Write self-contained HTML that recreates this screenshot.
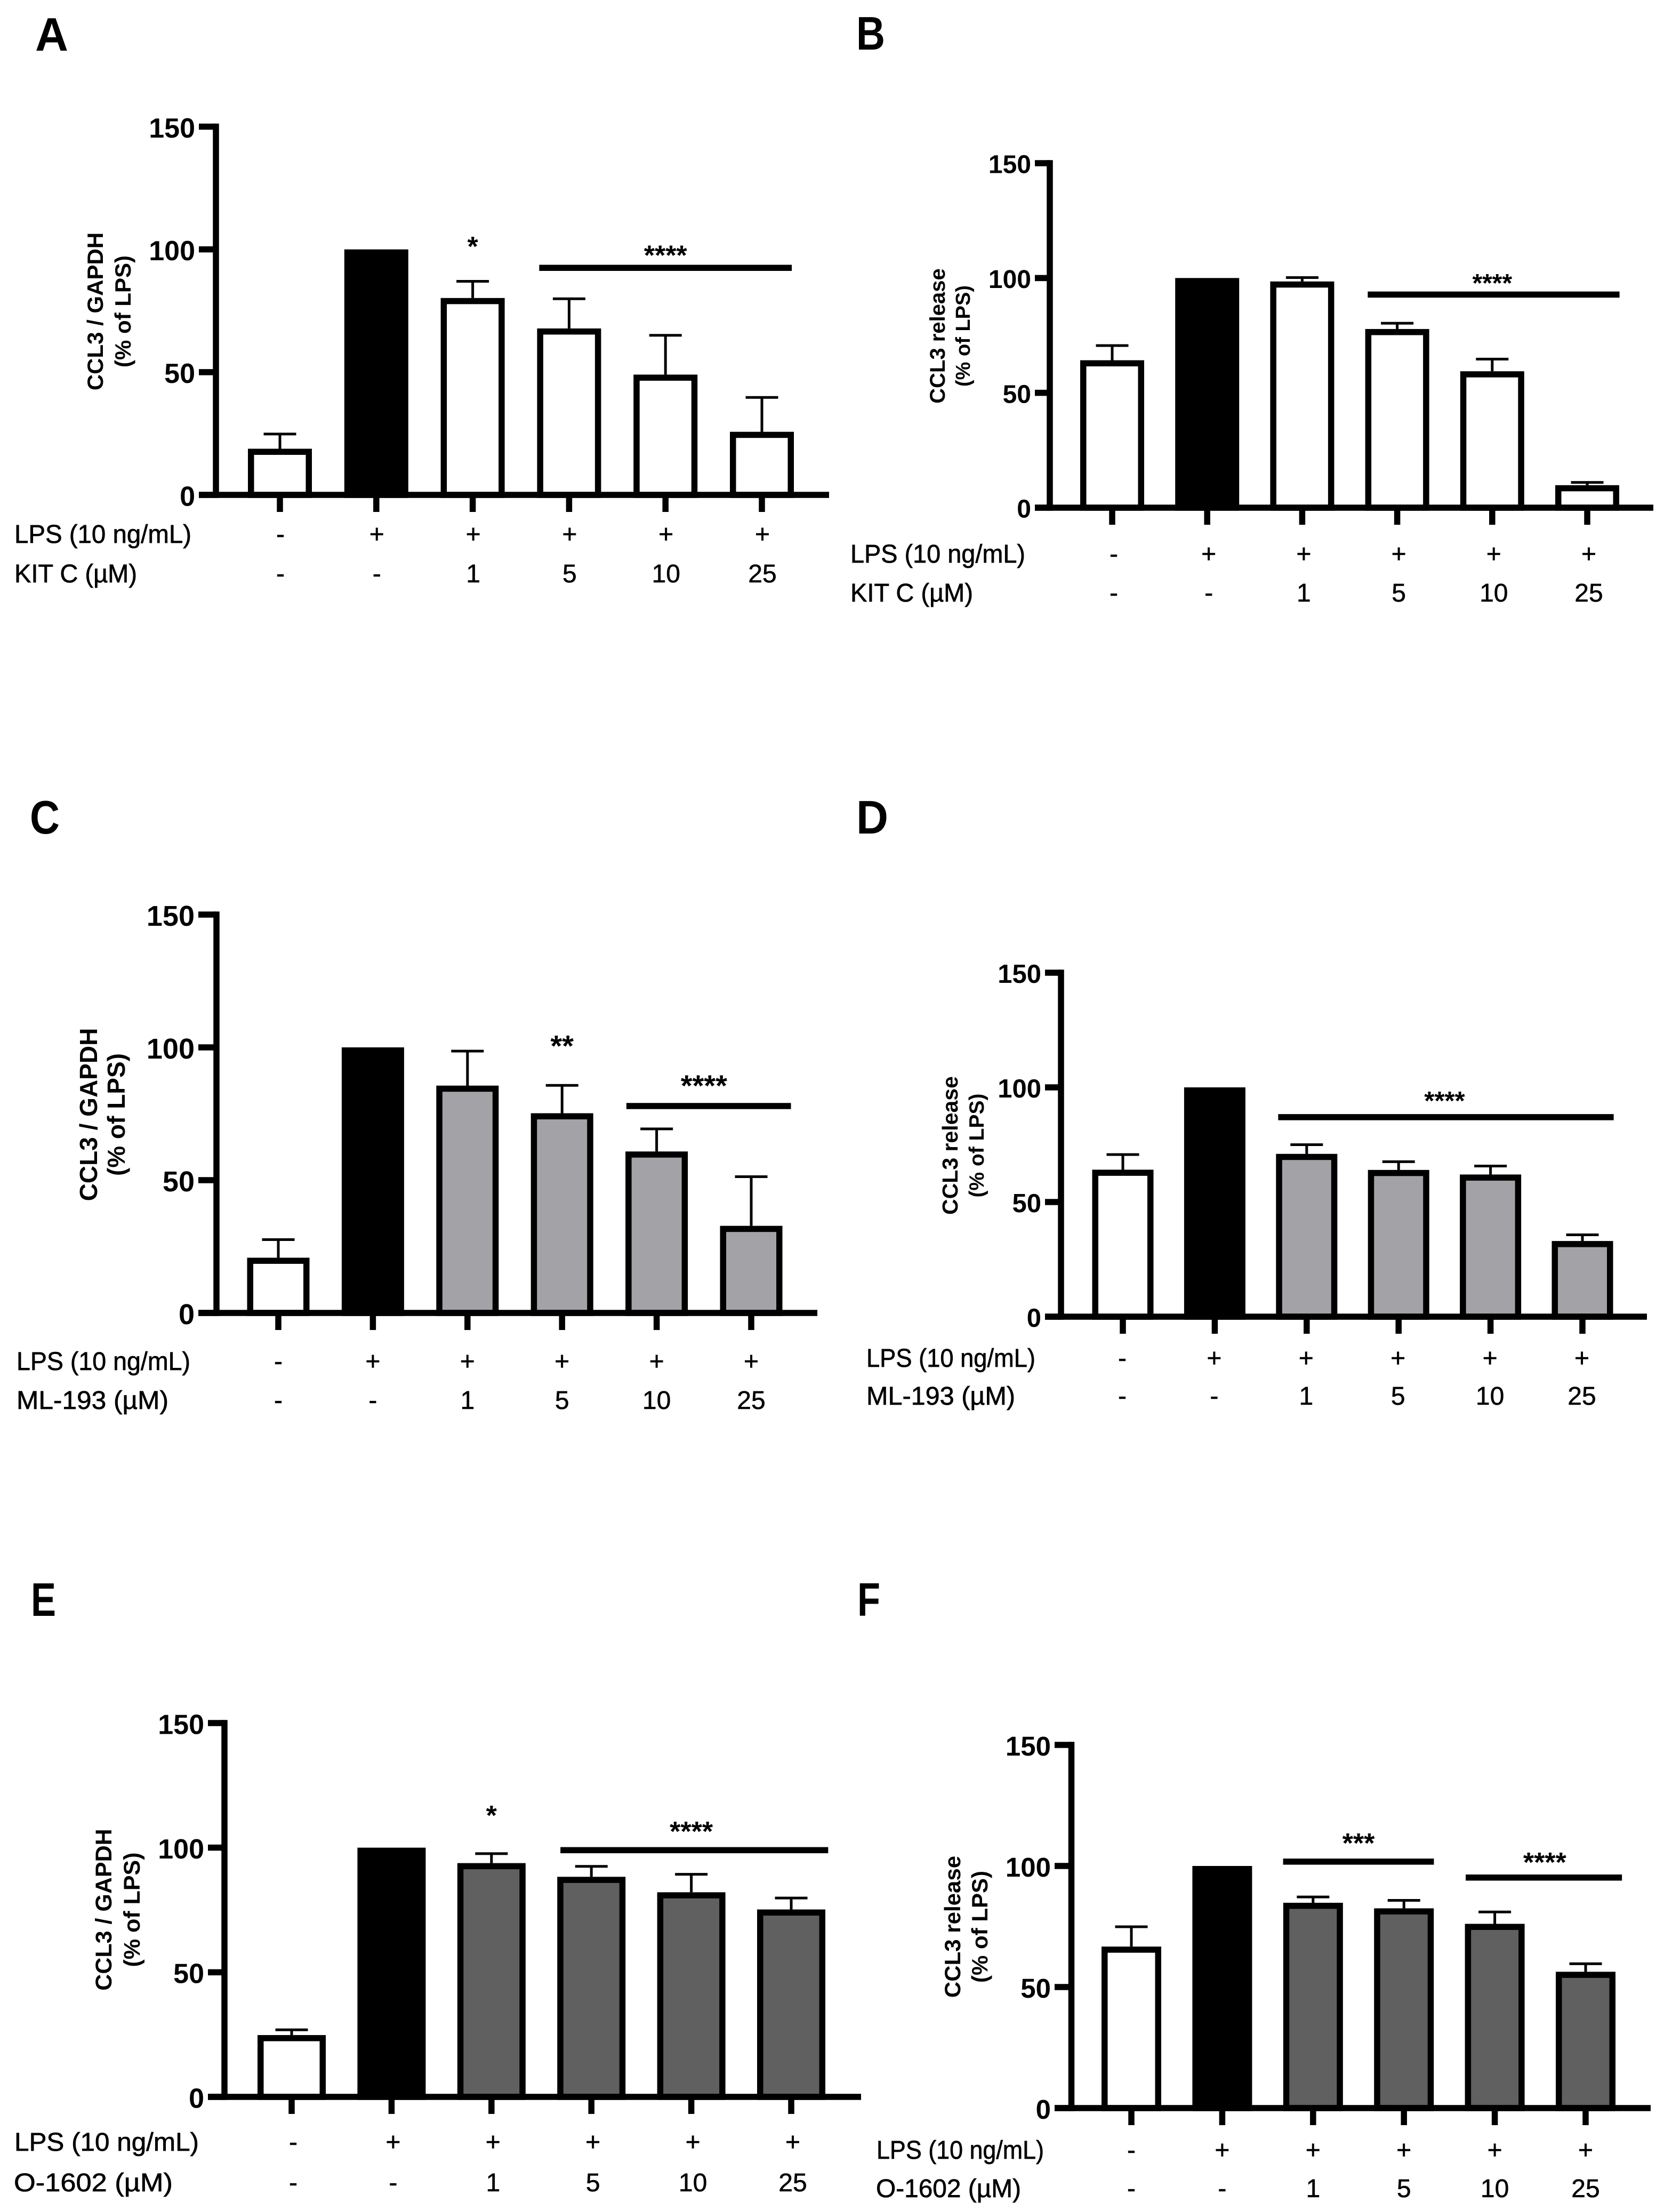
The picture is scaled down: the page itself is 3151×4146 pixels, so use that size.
<!DOCTYPE html>
<html lang="en">
<head>
<meta charset="utf-8">
<title>CCL3 expression and release panels</title>
<style>
html,body{margin:0;padding:0;background:#fff;}
svg{display:block;}
text{fill:#000;}
.letter{font:bold 88px "Liberation Sans",sans-serif;}
.ytitle{font-family:"Liberation Sans",sans-serif;font-weight:bold;text-anchor:middle;}
.rowhead{font:48px "Liberation Sans",sans-serif;stroke:#000;stroke-width:.7px;}
</style>
</head>
<body>
<svg id="figure" xmlns="http://www.w3.org/2000/svg" width="3151" height="4146" viewBox="0 0 3151 4146">
<rect x="0" y="0" width="3151" height="4146" fill="#fff"/>

<text class="letter" x="66" y="95" textLength="62" lengthAdjust="spacingAndGlyphs">A</text>
<text class="letter" x="1606" y="93" textLength="54" lengthAdjust="spacingAndGlyphs">B</text>
<text class="letter" x="56" y="1563" textLength="56" lengthAdjust="spacingAndGlyphs">C</text>
<text class="letter" x="1606" y="1563" textLength="60" lengthAdjust="spacingAndGlyphs">D</text>
<text class="letter" x="58" y="3030" textLength="47" lengthAdjust="spacingAndGlyphs">E</text>
<text class="letter" x="1608" y="3030" textLength="43" lengthAdjust="spacingAndGlyphs">F</text>

<g class="ytitle" font-size="42">
<text transform="translate(193 584) rotate(-90)">CCL3 / GAPDH</text>
<text transform="translate(245 584) rotate(-90)">(% of LPS)</text>
</g>
<g class="ytitle" font-size="40">
<text transform="translate(1772 630) rotate(-90)">CCL3 release</text>
<text transform="translate(1819 630) rotate(-90)" font-size="38">(% of LPS)</text>
</g>
<g class="ytitle" font-size="46">
<text transform="translate(182 2090) rotate(-90)">CCL3 / GAPDH</text>
<text transform="translate(234 2090) rotate(-90)">(% of LPS)</text>
</g>
<g class="ytitle" font-size="41">
<text transform="translate(1796 2148) rotate(-90)">CCL3 release</text>
<text transform="translate(1845 2148) rotate(-90)" font-size="39">(% of LPS)</text>
</g>
<g class="ytitle" font-size="43">
<text transform="translate(209 3581) rotate(-90)">CCL3 / GAPDH</text>
<text transform="translate(262 3581) rotate(-90)">(% of LPS)</text>
</g>
<g class="ytitle" font-size="42">
<text transform="translate(1801 3613) rotate(-90)">CCL3 release</text>
<text transform="translate(1852 3613) rotate(-90)">(% of LPS)</text>
</g>

<text class="rowhead" x="27" y="1018" textLength="332" lengthAdjust="spacingAndGlyphs">LPS (10 ng/mL)</text>
<text class="rowhead" x="27" y="1092" textLength="230" lengthAdjust="spacingAndGlyphs">KIT C (µM)</text>
<text class="rowhead" x="1595" y="1055" textLength="328" lengthAdjust="spacingAndGlyphs">LPS (10 ng/mL)</text>
<text class="rowhead" x="1595" y="1128" textLength="230" lengthAdjust="spacingAndGlyphs">KIT C (µM)</text>
<text class="rowhead" x="31" y="2569" textLength="326" lengthAdjust="spacingAndGlyphs">LPS (10 ng/mL)</text>
<text class="rowhead" x="31" y="2642" textLength="285" lengthAdjust="spacingAndGlyphs">ML-193 (µM)</text>
<text class="rowhead" x="1625" y="2563" textLength="317" lengthAdjust="spacingAndGlyphs">LPS (10 ng/mL)</text>
<text class="rowhead" x="1625" y="2634" textLength="279" lengthAdjust="spacingAndGlyphs">ML-193 (µM)</text>
<text class="rowhead" x="27" y="4033" textLength="346" lengthAdjust="spacingAndGlyphs">LPS (10 ng/mL)</text>
<text class="rowhead" x="26" y="4109" textLength="298" lengthAdjust="spacingAndGlyphs">O-1602 (µM)</text>
<text class="rowhead" x="1644" y="4048" textLength="314" lengthAdjust="spacingAndGlyphs">LPS (10 ng/mL)</text>
<text class="rowhead" x="1643" y="4120" textLength="272" lengthAdjust="spacingAndGlyphs">O-1602 (µM)</text>

<g id="marks"></g>
</svg>

<script>
// ---- Data ----
const yTickValues = [0, 50, 100, 150];
const yTickLabels = ['0', '50', '100', '150'];
const lpsLabels = ['-', '+', '+', '+', '+', '+'];
const doseLabels = ['-', '-', '1', '5', '10', '25'];

const valuesA = [18.8, 100, 80.2, 67.8, 49, 25.7];
const errorsA = [24.8, 100, 87, 79.9, 65, 39.7];
const valuesB = [64.2, 100, 98.5, 77.8, 59.4, 9.8];
const errorsB = [70.6, 100, 100.2, 80.3, 64.7, 11];
const valuesC = [20.8, 100, 85.6, 75.2, 60.8, 32.8];
const errorsC = [27.6, 100, 98.6, 85.7, 69.3, 51.3];
const valuesD = [64.1, 100, 71, 64, 62, 33];
const errorsD = [70.7, 100, 75, 67.6, 65.7, 35.7];
const valuesE = [24.8, 100, 93.8, 88.3, 82.1, 75.2];
const errorsE = [26.9, 100, 97.6, 92.5, 89.3, 79.8];
const valuesF = [66.7, 100, 84.8, 82.5, 76.1, 56.3];
const errorsF = [74.9, 100, 87.2, 85.8, 81, 59.6];

// significance lines: category span (fractional index) and value level
const sigSpansA = [[2.69, 5.31, 92.5]];
const sigSpansB = [[2.69, 5.34, 92.8]];
const sigSpansC = [[3.68, 5.42, 77.9]];
const sigSpansD = [[1.69, 5.34, 87]];
const sigSpansE = [[2.69, 5.37, 99]];
const sigSpansF = [[1.67, 3.33, 101.8], [3.68, 5.4, 95.2]];

// significance stars: text, category position, value level
const starsA = [['*', 2, 104], ['****', 4, 100.4]];
const starsB = [['****', 4, 100.6]];
const starsC = [['**', 3, 103.3], ['****', 4.5, 88.4]];
const starsD = [['****', 3.5, 96.9]];
const starsE = [['*', 2, 115.7], ['****', 4, 109.3]];
const starsF = [['***', 2.5, 112.3], ['****', 4.55, 104.3]];

// ---- Per-panel geometry ----
const layouts = {
  a: {top: 237.5, zero: 928, axisX: 405, tickLeft: 373, xEnd: 1555, first: 525, step: 180.8, barW: 120, labelDx: 1, row1: 1018, row2: 1092, tickFont: 52, starFont: 52, fill: '#fff', values: valuesA, errors: errorsA, spans: sigSpansA, stars: starsA},
  b: {top: 306, zero: 952, axisX: 1969, tickLeft: 1941, xEnd: 3101, first: 2086, step: 178.2, barW: 120, labelDx: 3, row1: 1055, row2: 1128, tickFont: 48, starFont: 48, fill: '#fff', values: valuesB, errors: errorsB, spans: sigSpansB, stars: starsB},
  c: {top: 1715, zero: 2462, axisX: 406, tickLeft: 372, xEnd: 1533, first: 522, step: 177.4, barW: 117, labelDx: 0, row1: 2569, row2: 2642, tickFont: 54, starFont: 56, fill: '#a3a2a7', values: valuesC, errors: errorsC, spans: sigSpansC, stars: starsC},
  d: {top: 1824, zero: 2469, axisX: 1990, tickLeft: 1960, xEnd: 3089, first: 2106, step: 172.4, barW: 115, labelDx: -1, row1: 2563, row2: 2634, tickFont: 49, starFont: 49, fill: '#a3a2a7', values: valuesD, errors: errorsD, spans: sigSpansD, stars: starsD},
  e: {top: 3231, zero: 3932, axisX: 421, tickLeft: 390, xEnd: 1615, first: 547, step: 187.4, barW: 128, labelDx: 3, row1: 4033, row2: 4109, tickFont: 52, starFont: 52, fill: '#606060', values: valuesE, errors: errorsE, spans: sigSpansE, stars: starsE},
  f: {top: 3272, zero: 3953, axisX: 2009.5, tickLeft: 1978, xEnd: 3096, first: 2122, step: 170.4, barW: 112, labelDx: 0, row1: 4048, row2: 4120, tickFont: 51, starFont: 52, fill: '#606060', values: valuesF, errors: errorsF, spans: sigSpansF, stars: starsF}
};

const SVGNS = 'http://www.w3.org/2000/svg';
const AXIS = 11.5, ERR = 5, CAP = 61, XTICK = 32;
const marks = document.getElementById('marks');

function shape(tag, parent, attrs) {
  const n = document.createElementNS(SVGNS, tag);
  for (const k in attrs) n.setAttribute(k, attrs[k]);
  parent.appendChild(n);
  return n;
}

Object.keys(layouts).forEach(function (key) {
  const p = layouts[key];
  const yScale = function (v) { return p.zero - (v / 150) * (p.zero - p.top); };
  const xScale = function (i) { return p.first + i * p.step; };

  const g = shape('g', marks, {});
  
  

  // bars and error bars
  p.values.forEach(function (v, i) {
    const cx = xScale(i), yTop = yScale(v);
    if (p.errors[i] > v) {
      const stem = shape('line', g, {x1: cx, x2: cx, y1: yTop, y2: yScale(p.errors[i]), stroke: '#000', 'stroke-width': ERR});
      
      
      const cap = shape('line', g, {x1: cx - CAP / 2, x2: cx + CAP / 2, y1: yScale(p.errors[i]), y2: yScale(p.errors[i]), stroke: '#000', 'stroke-width': ERR});
      
      
    }
    const isLps = i === 1;
    const bar = shape('rect', g, {
      x: cx - p.barW / 2 + AXIS / 2,
      y: yTop + AXIS / 2,
      width: p.barW - AXIS,
      height: Math.max(0, p.zero - yTop - AXIS / 2),
      fill: isLps ? '#000' : (i === 0 ? '#fff' : p.fill),
      stroke: '#000',
      'stroke-width': AXIS
    });
    
    

    const xt = shape('line', g, {x1: cx, x2: cx, y1: p.zero, y2: p.zero + XTICK, stroke: '#000', 'stroke-width': AXIS});
    
    

    const l1 = shape('text', g, {x: cx + p.labelDx, y: p.row1, 'text-anchor': 'middle', 'font-family': '"Liberation Sans",sans-serif', 'font-size': 48, stroke: '#000', 'stroke-width': 0.6});
    l1.textContent = lpsLabels[i];
    
    

    const l2 = shape('text', g, {x: cx + p.labelDx, y: p.row2, 'text-anchor': 'middle', 'font-family': '"Liberation Sans",sans-serif', 'font-size': 48, stroke: '#000', 'stroke-width': 0.6});
    l2.textContent = doseLabels[i];
    
    
  });

  // axes
  const yAxis = shape('line', g, {x1: p.axisX, x2: p.axisX, y1: p.top - AXIS / 2, y2: p.zero + AXIS / 2, stroke: '#000', 'stroke-width': AXIS});
  
  

  const xAxis = shape('line', g, {x1: p.tickLeft, x2: p.xEnd, y1: p.zero, y2: p.zero, stroke: '#000', 'stroke-width': AXIS});
  
  

  yTickValues.forEach(function (v, i) {
    const t = shape('line', g, {x1: p.tickLeft, x2: p.axisX, y1: yScale(v), y2: yScale(v), stroke: '#000', 'stroke-width': AXIS});
    
    
    const lab = shape('text', g, {x: p.tickLeft - 7, y: yScale(v) + p.tickFont * 0.39, 'text-anchor': 'end', 'font-family': '"Liberation Sans",sans-serif', 'font-weight': 'bold', 'font-size': p.tickFont});
    lab.textContent = yTickLabels[i];
    
    
  });

  // significance lines and stars
  p.spans.forEach(function (s, i) {
    const sig = shape('line', g, {x1: xScale(s[0]), x2: xScale(s[1]), y1: yScale(s[2]), y2: yScale(s[2]), stroke: '#000', 'stroke-width': AXIS});
    
    
  });
  p.stars.forEach(function (s, i) {
    const st = shape('text', g, {x: xScale(s[1]), y: yScale(s[2]) + p.starFont * 0.59, 'text-anchor': 'middle', 'font-family': '"Liberation Sans",sans-serif', 'font-weight': 'bold', 'font-size': p.starFont});
    st.textContent = s[0];
    
    
  });
});
</script>
</body>
</html>
